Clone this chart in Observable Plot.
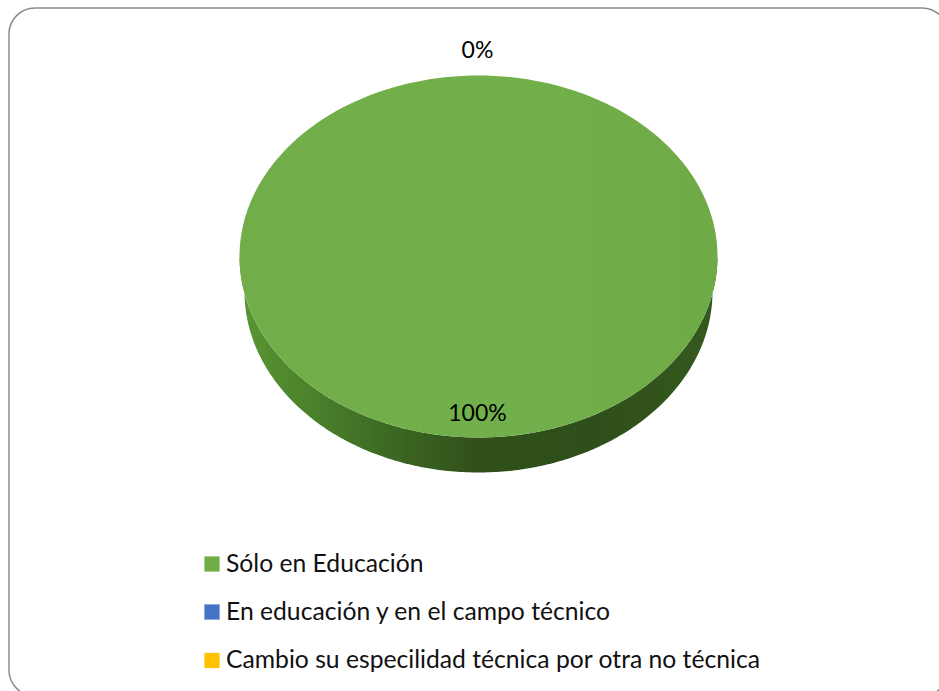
<!DOCTYPE html>
<html>
<head>
<meta charset="utf-8">
<script src="https://cdn.jsdelivr.net/npm/d3@7"></script>
<script src="https://cdn.jsdelivr.net/npm/@observablehq/plot@0.6"></script>
<style>html,body{margin:0;padding:0;background:#fff}svg{display:block}</style>
</head>
<body>
<script>
const categories = ["Sólo en Educación", "En educación y en el campo técnico", "Cambio su especilidad técnica por otra no técnica"];
const shares = [100, 0, 0];
const shareLabels = ["100%", "0%", "0%"];
const sliceColors = ["#70AD47", "#4472C4", "#FFC000"];

const W = 939, H = 691;
const font = "Lato, Carlito, Calibri, sans-serif";
const top3d = {cx: 478, cy: 256, rx: 239, ry: 181};
const bot3d = {cx: 478, cy: 291, rx: 234, ry: 181};
const at = (e, a) => ({x: e.cx + e.rx * Math.sin(a), y: e.cy - e.ry * Math.cos(a)});

// Slices come from the values through d3.pie, clockwise from 12 o'clock
const arcs = d3.pie().sort(null)(shares);
const steps = a => {
  const n = Math.max(2, Math.ceil((a.endAngle - a.startAngle) * 60));
  return d3.range(n + 1).map(i => a.startAngle + (a.endAngle - a.startAngle) * i / n);
};

const topFace = arcs.flatMap((a, i) => a.value === 0 ? [] : [
  {x: top3d.cx, y: top3d.cy, k: categories[i]},
  ...steps(a).map(t => ({...at(top3d, t), k: categories[i]}))
]);
// Side wall: the front half of the rim, upper edge then lower edge reversed
const frontAngles = d3.range(0, 241).map(i => Math.PI / 2 + Math.PI * i / 240);
const wall = [
  ...frontAngles.map(t => at(top3d, t)),
  ...frontAngles.slice().reverse().map(t => at(bot3d, t))
];

const labelRows = [
  {t: shareLabels[0], x: 477, y: 413},
  {t: shareLabels[1], x: 477, y: 50}
];
const legendRows = categories.map((c, i) => ({c, color: sliceColors[i], y: [563.5, 611.5, 660][i]}));

const defs = () => {
  const d = d3.create("svg:defs");
  const g = d.append("linearGradient").attr("id", "wallGrad").attr("gradientUnits", "userSpaceOnUse")
    .attr("x1", 240).attr("x2", 716).attr("y1", 0).attr("y2", 0);
  [[0, "#5a9634"], [0.15, "#4a812b"], [0.35, "#3a6321"], [0.5, "#30501a"], [0.75, "#2f4f1a"], [1, "#34591d"]]
    .forEach(([o, c]) => g.append("stop").attr("offset", o).attr("stop-color", c));
  const h = d.append("linearGradient").attr("id", "topGrad").attr("gradientUnits", "userSpaceOnUse")
    .attr("x1", 240).attr("x2", 716).attr("y1", 0).attr("y2", 0);
  [[0, "#71ae4a"], [0.55, "#72b04b"], [1, "#6eab47"]]
    .forEach(([o, c]) => h.append("stop").attr("offset", o).attr("stop-color", c));
  return d.node();
};

const chart = Plot.plot({
  width: W, height: H, margin: 0,
  x: {domain: [0, W], range: [0, W], axis: null},
  y: {domain: [0, H], range: [0, H], axis: null},
  style: {background: "#fff", fontFamily: font},
  marks: [
    defs,
    Plot.rect([{}], {x1: () => 9, x2: () => 948, y1: () => 8, y2: () => 696, rx: 26, fill: "#fff", stroke: "#8c8c8c", strokeWidth: 1.5}),
    Plot.line(wall, {x: "x", y: "y", fill: "url(#wallGrad)", stroke: "none", curve: "linear-closed"}),
    Plot.line(topFace, {x: "x", y: "y", z: "k", fill: "url(#topGrad)", stroke: "none", curve: "linear-closed"}),
    Plot.text(labelRows, {x: "x", y: "y", text: "t", fontSize: 23, fill: "#000", textAnchor: "middle", lineAnchor: "middle"}),
    Plot.dot(legendRows, {x: () => 211.5, y: "y", symbol: "square", r: 8.6, fill: "color", stroke: "none"}),
    Plot.text(legendRows, {x: () => 225.5, y: "y", text: "c", fontSize: 24.7, fill: "#111", textAnchor: "start", lineAnchor: "middle"})
  ]
});
document.body.appendChild(chart);
</script>
</body>
</html>
